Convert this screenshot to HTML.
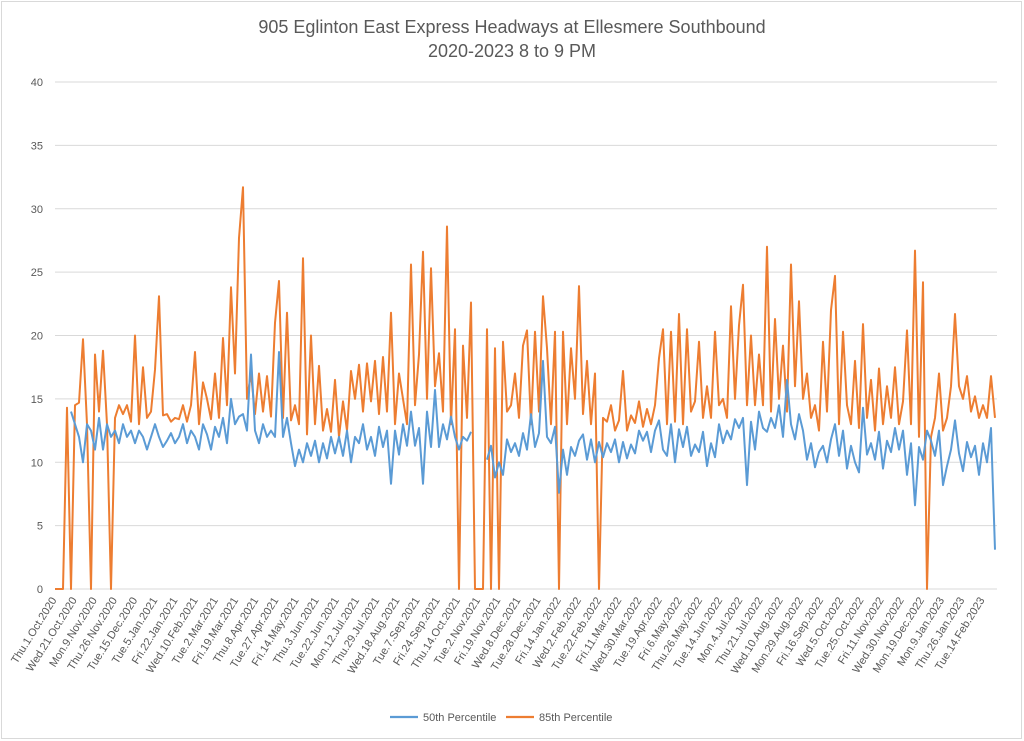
<!DOCTYPE html>
<html><head><meta charset="utf-8"><style>
body{margin:0;background:#fff;font-family:"Liberation Sans",Arial,sans-serif}
svg{display:block}
</style></head><body>
<svg id="chart" width="1024" height="741">
<rect x="1.5" y="1.5" width="1020" height="737" fill="#fff" stroke="#d9d9d9"/>
<text x="512" y="33" text-anchor="middle" font-size="18" fill="#595959">905 Eglinton East Express Headways at Ellesmere Southbound</text>
<text x="512" y="57" text-anchor="middle" font-size="18" fill="#595959">2020-2023 8 to 9 PM</text>
<g id="grid"></g><g id="yticks"></g><g id="xticks"></g><g id="lines"></g>
<g>
<line x1="390" y1="717" x2="418" y2="717" stroke="#5b9bd5" stroke-width="2.2"/>
<text x="423" y="721" font-size="11" fill="#595959">50th Percentile</text>
<line x1="506" y1="717" x2="534" y2="717" stroke="#ed7d31" stroke-width="2.2"/>
<text x="539" y="721" font-size="11" fill="#595959">85th Percentile</text>
</g>
</svg>
<script>
const yTicks=[0,5,10,15,20,25,30,35,40];
const xLabels=["Thu.1.Oct.2020","Wed.21.Oct.2020","Mon.9.Nov.2020","Thu.26.Nov.2020","Tue.15.Dec.2020","Tue.5.Jan.2021","Fri.22.Jan.2021","Wed.10.Feb.2021","Tue.2.Mar.2021","Fri.19.Mar.2021","Thu.8.Apr.2021","Tue.27.Apr.2021","Fri.14.May.2021","Thu.3.Jun.2021","Tue.22.Jun.2021","Mon.12.Jul.2021","Thu.29.Jul.2021","Wed.18.Aug.2021","Tue.7.Sep.2021","Fri.24.Sep.2021","Thu.14.Oct.2021","Tue.2.Nov.2021","Fri.19.Nov.2021","Wed.8.Dec.2021","Tue.28.Dec.2021","Fri.14.Jan.2022","Wed.2.Feb.2022","Tue.22.Feb.2022","Fri.11.Mar.2022","Wed.30.Mar.2022","Tue.19.Apr.2022","Fri.6.May.2022","Thu.26.May.2022","Tue.14.Jun.2022","Mon.4.Jul.2022","Thu.21.Jul.2022","Wed.10.Aug.2022","Mon.29.Aug.2022","Fri.16.Sep.2022","Wed.5.Oct.2022","Tue.25.Oct.2022","Fri.11.Nov.2022","Wed.30.Nov.2022","Mon.19.Dec.2022","Mon.9.Jan.2023","Thu.26.Jan.2023","Tue.14.Feb.2023"];
const p85=[0,0,0,14.3,0,14.5,14.7,19.7,13,0,18.5,14,18.8,13,0,13.5,14.5,13.8,14.5,13.2,20,13,17.5,13.5,14,17.3,23.1,13.7,13.8,13.2,13.5,13.4,14.5,13.2,14.5,18.7,13,16.3,15,13.4,17,13.5,19.8,14.5,23.8,17,27.7,31.7,15,17,13.8,17,14,16.8,13.6,21,24.3,13.5,21.8,13.3,14.5,13,26.1,12.2,20,13,17.6,12.5,14.2,12.4,16.5,12,14.8,12.5,17.2,15,17.7,14,17.8,14.8,18,13.8,18.3,14,21.8,13,17,15,13,25.6,14.5,18.5,26.6,15,25.3,16,18.6,14,28.6,13,20.5,0,19.2,13.5,22.6,0,0,0,20.5,0,19,0,19.5,14,14.5,17,13.5,19.2,20.4,13,20.3,14,23.1,19,13,20.3,0,20.3,13,19,15,23.9,13.8,18,13,17,0,13.5,13.2,14.5,12.5,13.3,17.2,12.5,13.7,13.1,14.8,12.8,14.2,13,14.5,18.2,20.5,13,20.3,13.2,21.7,13,20.5,14,14.8,19.5,13.5,16,13.5,20.3,14.5,15,13.5,22.3,15,20.8,24,14.5,20,14.5,18.5,14.5,27,14,21.3,15,19.2,14,25.6,16,22.7,15,17,13.5,14.5,12.5,19.5,14,22,24.7,13,20.3,14.5,13,18,12.7,20.9,13.5,16.5,12.5,17.4,13,16,13.5,17.5,13,14.8,20.4,13,26.7,12,24.2,0,12,13.5,17,12.5,13.5,16,21.7,16,15,16.8,14,15.2,13.5,14.5,13.5,16.8,13.5];
const p50=[null,null,null,null,14,13,12,10,13,12.5,11,13.5,11,13,12,12.5,11.5,13,12,12.5,11.5,12.5,12,11,12,13,12,11.2,11.7,12.3,11.5,12,13,11.5,12.5,12,11,13,12.2,11,12.8,12,13.5,11.5,15,13,13.6,13.8,12.5,18.5,12.5,11.5,13,12,12.5,12,18.7,12,13.5,11.5,9.7,11,10,11.5,10.5,11.7,10,11.5,10.3,12,10.7,12,10.5,12.5,10,12,11.5,13,11,12,10.5,12.8,11.2,12.5,8.3,12.5,10.6,13,11.3,14,11.3,12.7,8.3,14,11.2,15.7,11.2,13,11.8,13.6,12,11,12,11.7,12.4,null,null,null,10.2,11.3,8.8,10,9,11.8,10.8,11.5,10.5,12.3,11,13.8,11.2,12.3,18,12,11.5,12.8,7.6,11,9,11.2,10.5,11.7,12.2,10.2,11.8,10,11.6,10.4,11.5,10.8,11.8,10,11.6,10.3,11.4,10.7,12.5,11.7,12.4,10.8,12.5,13.3,11,10.5,13,10,12.6,11.2,12.8,10.5,11.4,10.8,12.4,9.7,11.5,10.4,13,11.5,12.5,11.8,13.4,12.7,13.5,8.2,13.2,11,14,12.7,12.4,13.5,12.7,14.5,12,16.5,13,11.8,13.8,12.5,10.2,11.5,9.6,10.8,11.3,10,11.8,13,10.5,12.5,9.5,11.3,10,9.2,14.3,10.6,11.5,10.2,12.4,9.5,11.7,10.8,12.7,11,12.5,9,11.5,6.6,11.2,10.2,12.5,11.7,10.5,12.5,8.2,9.7,11,13.3,10.7,9.3,11.6,10.4,11.3,9,11.5,10,12.7,3.1];

const NS="http://www.w3.org/2000/svg";
const X0=55,X1=995,Y0=589,Y40=82,GX1=997;
const yS=v=>Y0-(v/40)*(Y0-Y40);
const xS=i=>X0+i*(X1-X0)/(p85.length-1);
const lab=i=>57+i*(985-57)/(xLabels.length-1);
function mk(tag,attrs,parent){const e=document.createElementNS(NS,tag);for(const k in attrs)e.setAttribute(k,attrs[k]);parent.appendChild(e);return e;}
const grid=document.getElementById('grid'),yt=document.getElementById('yticks'),xt=document.getElementById('xticks'),lines=document.getElementById('lines');
yTicks.forEach(v=>{
  const l=mk('line',{x1:X0,x2:GX1,y1:yS(v),y2:yS(v),stroke:'#d9d9d9','stroke-width':1},grid);
  
  
  const t=mk('text',{x:43,y:yS(v)+4,'text-anchor':'end','font-size':11,fill:'#595959'},yt);
  t.textContent=v;
  
  
});
xLabels.forEach((s,i)=>{
  const x=lab(i),y=600;
  const t=mk('text',{x:x,y:y,'text-anchor':'end','font-size':11,fill:'#595959',transform:'rotate(-58 '+x+' '+y+')'},xt);
  t.textContent=s;
  
  
});
function path(arr){let d='',pen=false;arr.forEach((v,i)=>{if(v===null){pen=false;return;}d+=(pen?'L':'M')+xS(i).toFixed(1)+' '+yS(v).toFixed(1);pen=true;});return d;}
const l85=mk('path',{d:path(p85),fill:'none',stroke:'#ed7d31','stroke-width':2,'stroke-linejoin':'round'},lines);


const l50=mk('path',{d:path(p50),fill:'none',stroke:'#5b9bd5','stroke-width':2,'stroke-linejoin':'round'},lines);


</script>
</body></html>
